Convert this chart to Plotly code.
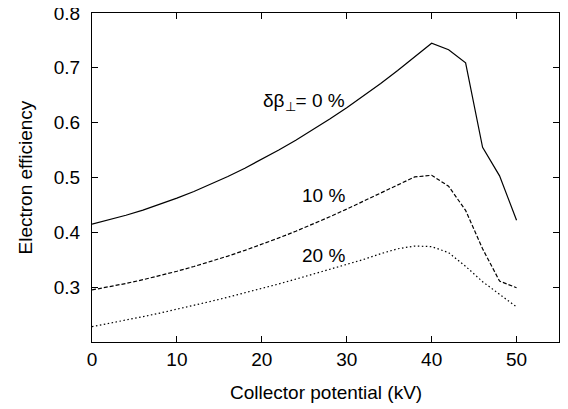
import plotly.graph_objects as go

x_kv = [0, 2, 4, 6, 8, 10, 12, 14, 16, 18, 20, 22, 24, 26, 28, 30, 32, 34, 36, 38, 40, 42, 44, 46, 48, 50]

eff_0 = [0.415, 0.4226, 0.4311, 0.4405, 0.4509, 0.4623, 0.4745, 0.4877, 0.5019, 0.5170,
         0.533, 0.5500, 0.5679, 0.5867, 0.6065, 0.6273, 0.6489, 0.6715, 0.6951, 0.7196,
         0.745, 0.733, 0.709, 0.555, 0.503, 0.422]

eff_10 = [0.295, 0.3006, 0.3068, 0.3136, 0.3210, 0.3290, 0.3377, 0.3469, 0.3567, 0.3671,
          0.3782, 0.3898, 0.4020, 0.4149, 0.4283, 0.4424, 0.4570, 0.4723, 0.486, 0.501,
          0.504, 0.484, 0.44, 0.37, 0.311, 0.299]

eff_20 = [0.228, 0.2338, 0.2399, 0.2462, 0.2528, 0.2596, 0.2667, 0.2741, 0.2817, 0.2894,
          0.2976, 0.3059, 0.3146, 0.3235, 0.3325, 0.3419, 0.3506, 0.361, 0.370, 0.375,
          0.374, 0.363, 0.338, 0.310, 0.287, 0.264]

labels = ["δβ<sub>⊥</sub>= 0 %", "10 %", "20 %"]
label_x = [30.0, 30.0, 30.0]
label_y = [0.638, 0.468, 0.358]

x_ticks = [0, 10, 20, 30, 40, 50]
y_ticks = [0.3, 0.4, 0.5, 0.6, 0.7, 0.8]

FONT = "Liberation Sans, Arial, sans-serif"

fig = go.Figure()
fig.add_trace(go.Scatter(x=x_kv, y=eff_0, mode="lines",
                         line=dict(color="black", width=1.2)))
fig.add_trace(go.Scatter(x=x_kv, y=eff_10, mode="lines",
                         line=dict(color="black", width=1.2, dash="4px,2px")))
fig.add_trace(go.Scatter(x=x_kv, y=eff_20, mode="lines",
                         line=dict(color="black", width=1.2, dash="1.5px,2.5px")))

for t, xx, yy in zip(labels, label_x, label_y):
    fig.add_annotation(x=xx, y=yy, text=t, showarrow=False, xanchor="right",
                       yanchor="middle", font=dict(size=19, color="black", family=FONT))

axis_common = dict(showline=True, linecolor="black", linewidth=1.3, mirror="ticks",
                   ticks="inside", ticklen=6, tickcolor="black", tickwidth=1,
                   showgrid=False, zeroline=False, automargin=False,
                   ticklabeloverflow="allow",
                   tickfont=dict(size=19, color="black", family=FONT))

fig.update_xaxes(range=[0, 55], tickvals=x_ticks, ticktext=[str(v) for v in x_ticks],
                 ticklabelstandoff=0,
                 **axis_common)
fig.update_yaxes(range=[0.2, 0.8], tickvals=y_ticks, ticktext=[f"{v:.1f}" for v in y_ticks],
                 ticklabelstandoff=7,
                 **axis_common)

fig.add_annotation(text="Collector potential (kV)", xref="paper", yref="paper",
                   x=0.5, y=-(392 - 342) / 329, xanchor="center", yanchor="middle",
                   showarrow=False, font=dict(size=19, color="black", family=FONT))
fig.add_annotation(text="Electron efficiency", xref="paper", yref="paper",
                   x=-(92 - 25) / 467, y=0.5, xanchor="center", yanchor="middle",
                   textangle=-90, showarrow=False,
                   font=dict(size=19, color="black", family=FONT))

# page body has an 8px margin, so the figure is placed 8px in from the top-left
fig.update_layout(width=560, height=401, showlegend=False,
                  margin=dict(l=84, r=9, t=5, b=67),
                  plot_bgcolor="white", paper_bgcolor="white",
                  font=dict(family=FONT, color="black"))

fig.write_html("out.html")
